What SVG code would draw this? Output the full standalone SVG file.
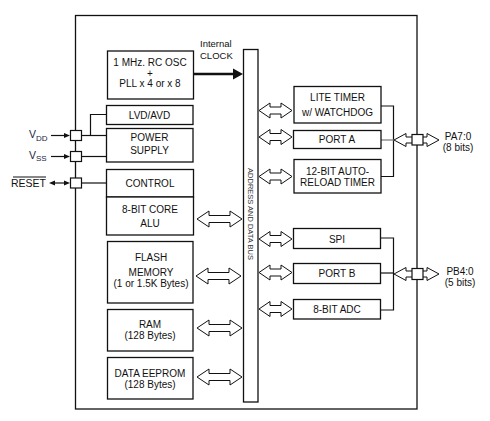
<svg xmlns="http://www.w3.org/2000/svg" width="490" height="421" viewBox="0 0 490 421">
<style>
  .box{fill:#fff;stroke:#111;stroke-width:1.3}
  .ln{fill:none;stroke:#111;stroke-width:1.2}
  .t{font-family:"Liberation Sans",Arial,sans-serif;font-size:10px;fill:#111;text-anchor:middle}
  .harrow{fill:#fff;stroke:#111;stroke-width:1}
  .pin{fill:#fff;stroke:#111;stroke-width:1.2}
</style>
<rect width="490" height="421" fill="#fff"/>

<!-- outer chip boundary -->
<rect id="chip" x="75.5" y="15.5" width="341.5" height="393.5" fill="none" stroke="#111" stroke-width="1.3"/>

<g id="connectors">
  <!-- internal clock -->
  <line x1="193" y1="74" x2="235" y2="74" stroke="#111" stroke-width="2.6"/>
  <polygon points="233,68.5 243,74 233,79.5" fill="#111"/>
  <!-- power lines -->
  <polyline class="ln" points="81,135.5 106,135.5"/>
  <polyline class="ln" points="90.5,135.5 90.5,114.5 106,114.5"/>
  <polyline class="ln" points="81,156.5 106,156.5"/>
  <polyline class="ln" points="81,183 106,183"/>
  <!-- external pin arrows -->
  <line class="ln" x1="51" y1="135.5" x2="65" y2="135.5"/>
  <polygon points="64,133 70,135.5 64,138" fill="#111"/>
  <line class="ln" x1="51" y1="156.5" x2="65" y2="156.5"/>
  <polygon points="64,154 70,156.5 64,159" fill="#111"/>
  <line class="ln" x1="54" y1="183" x2="65" y2="183"/>
  <polygon points="64,180.5 70,183 64,185.5" fill="#111"/>
  <polygon points="55,180.5 49,183 55,185.5" fill="#111"/>
  <!-- left bus arrows -->
  <path class="harrow" d="M197,219 L209,211 L209,215.5 L230,215.5 L230,211 L242,219 L230,227 L230,222.5 L209,222.5 L209,227 Z"/>
  <path class="harrow" d="M196,276 L208,268 L208,272.5 L229,272.5 L229,268 L241,276 L229,284 L229,279.5 L208,279.5 L208,284 Z"/>
  <path class="harrow" d="M197,328 L209,320 L209,324.5 L230,324.5 L230,320 L242,328 L230,336 L230,331.5 L209,331.5 L209,336 Z"/>
  <path class="harrow" d="M197,377 L209,369 L209,373.5 L230,373.5 L230,369 L242,377 L230,385 L230,380.5 L209,380.5 L209,385 Z"/>
  <!-- right bus arrows -->
  <path class="harrow" d="M259,110.5 L270,103 L270,107 L281,107 L281,103 L292,110.5 L281,118 L281,114 L270,114 L270,118 Z"/>
  <path class="harrow" d="M259,137 L270,129.5 L270,133.5 L281,133.5 L281,129.5 L292,137 L281,144.5 L281,140.5 L270,140.5 L270,144.5 Z"/>
  <path class="harrow" d="M259,176.5 L270,169 L270,173 L281,173 L281,169 L292,176.5 L281,184 L281,180 L270,180 L270,184 Z"/>
  <path class="harrow" d="M259,239 L270,231.5 L270,235.5 L281,235.5 L281,231.5 L292,239 L281,246.5 L281,242.5 L270,242.5 L270,246.5 Z"/>
  <path class="harrow" d="M259,272.5 L270,265 L270,269 L281,269 L281,265 L292,272.5 L281,280 L281,276 L270,276 L270,280 Z"/>
  <path class="harrow" d="M259,309 L270,301.5 L270,305.5 L281,305.5 L281,301.5 L292,309 L281,316.5 L281,312.5 L270,312.5 L270,316.5 Z"/>
  <!-- port A group -->
  <polyline class="ln" points="381,106 393.5,106 393.5,176.5 381,176.5"/>
  <line x1="381" y1="140" x2="394" y2="140" stroke="#777" stroke-width="1.2"/>
  <path class="harrow" d="M394,140 L406,133.5 L406,137 L427,137 L427,133.5 L439,140 L427,146.5 L427,143 L406,143 L406,146.5 Z"/>
  <!-- port B group -->
  <polyline class="ln" points="381,238 393.5,238 393.5,310 381,310"/>
  <line class="ln" x1="381" y1="273" x2="394" y2="273"/>
  <path class="harrow" d="M394,274 L406,267.5 L406,271 L427,271 L427,267.5 L439,274 L427,280.5 L427,277 L406,277 L406,280.5 Z"/>
</g>

<!-- pins -->
<g id="pin-vdd"><rect class="pin" x="70.5" y="130.5" width="11" height="10"/><text x="29" y="138" font-family="Liberation Sans,Arial,sans-serif" font-size="10.5" fill="#1a2340">V<tspan font-size="8" dy="2.5">DD</tspan></text></g>
<g id="pin-vss"><rect class="pin" x="70.5" y="151.5" width="11" height="10"/><text x="29" y="158.5" font-family="Liberation Sans,Arial,sans-serif" font-size="10.5" fill="#1a2340">V<tspan font-size="8" dy="2.5">SS</tspan></text></g>
<g id="pin-reset"><rect class="pin" x="70.5" y="178" width="11" height="10"/><text x="46" y="186.5" font-family="Liberation Sans,Arial,sans-serif" font-size="10.5" fill="#111" text-anchor="end">RESET</text><line x1="13" y1="177" x2="46" y2="177" stroke="#111" stroke-width="1"/></g>
<g id="pin-pa"><rect class="pin" x="412" y="134.5" width="11" height="10.5"/><text class="t" x="458" y="140">PA7:0</text><text class="t" x="458" y="151">(8 bits)</text></g>
<g id="pin-pb"><rect class="pin" x="412" y="268.5" width="11" height="11"/><text class="t" x="460" y="275">PB4:0</text><text class="t" x="460" y="286">(5 bits)</text></g>

<!-- bus -->
<g id="bus">
  <rect class="box" x="243.5" y="49.5" width="14.5" height="352.5"/>
  <text x="250.7" y="216.7" transform="rotate(90 250.7 214)" font-family="Liberation Sans,Arial,sans-serif" font-size="7.5" fill="#333" text-anchor="middle">ADDRESS AND DATA BUS</text>
</g>
<g id="clock-label">
  <text x="200" y="47" font-family="Liberation Sans,Arial,sans-serif" font-size="9.5" fill="#111">Internal</text>
  <text x="200" y="59" font-family="Liberation Sans,Arial,sans-serif" font-size="9.5" fill="#111">CLOCK</text>
</g>

<!-- left column -->
<g id="osc"><rect class="box" x="107.5" y="51" width="86" height="48"/><text class="t" x="150" y="66">1 MHz. RC OSC</text><text class="t" x="150" y="77">+</text><text class="t" x="150" y="87">PLL x 4 or x 8</text></g>
<g id="lvd"><rect class="box" x="106.5" y="105.5" width="86.5" height="19"/><text class="t" x="149.5" y="119">LVD/AVD</text></g>
<g id="power"><rect class="box" x="106.5" y="128.5" width="86.5" height="33.5"/><text class="t" x="149.5" y="141">POWER</text><text class="t" x="149.5" y="154">SUPPLY</text></g>
<g id="control"><rect class="box" x="106.5" y="169.5" width="87" height="27.5"/><text class="t" x="150" y="187">CONTROL</text></g>
<g id="alu"><rect class="box" x="106.5" y="197" width="87" height="38"/><text class="t" x="150" y="213">8-BIT CORE</text><text class="t" x="150" y="226.5">ALU</text></g>
<g id="flash"><rect class="box" x="107.5" y="241.5" width="85.5" height="61.5"/><text class="t" x="151" y="260.5">FLASH</text><text class="t" x="151" y="275.5">MEMORY</text><text class="t" x="151" y="287">(1 or 1.5K Bytes)</text></g>
<g id="ram"><rect class="box" x="107.5" y="309.5" width="85.5" height="41.5"/><text class="t" x="150" y="327.5">RAM</text><text class="t" x="150" y="339">(128 Bytes)</text></g>
<g id="eeprom"><rect class="box" x="107.5" y="357.5" width="85.5" height="41.5"/><text class="t" x="150" y="377">DATA EEPROM</text><text class="t" x="150" y="388">(128 Bytes)</text></g>

<!-- right column -->
<g id="lite-timer"><rect class="box" x="294" y="86.5" width="87" height="36.5"/><text class="t" x="337.5" y="100.5">LITE TIMER</text><text class="t" x="337.5" y="115.5">w/ WATCHDOG</text></g>
<g id="port-a"><rect class="box" x="293.5" y="130.5" width="87.5" height="18"/><text class="t" x="337" y="143">PORT A</text></g>
<g id="autoreload"><rect class="box" x="294" y="159.5" width="87" height="33.5"/><text class="t" x="337.5" y="175">12-BIT AUTO-</text><text class="t" x="337.5" y="186">RELOAD TIMER</text></g>
<g id="spi"><rect class="box" x="293.5" y="228.5" width="87" height="20"/><text class="t" x="337" y="242.5">SPI</text></g>
<g id="port-b"><rect class="box" x="293.5" y="263.5" width="87" height="20"/><text class="t" x="337" y="277">PORT B</text></g>
<g id="adc"><rect class="box" x="293.5" y="299.5" width="87" height="19.5"/><text class="t" x="337" y="313">8-BIT ADC</text></g>
</svg>
